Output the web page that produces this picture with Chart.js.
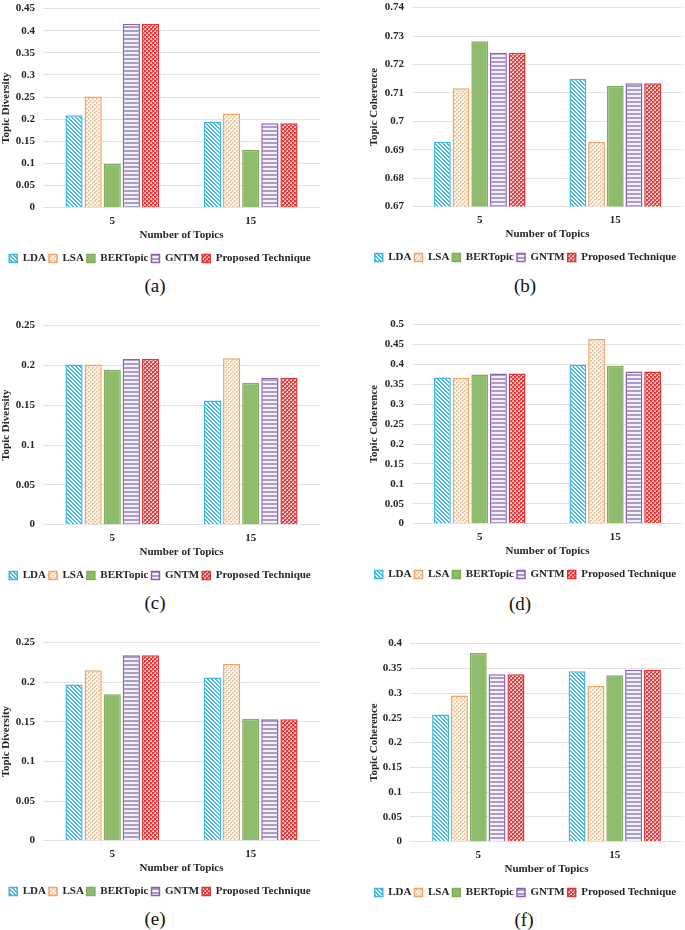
<!DOCTYPE html>
<html>
<head>
<meta charset="utf-8">
<script src="https://cdn.jsdelivr.net/npm/chart.js@4.4.1/dist/chart.umd.min.js"></script>
<style>
  html,body{margin:0;padding:0;background:#fff;}
  body{width:685px;height:930px;position:relative;overflow:hidden;}
  .box{position:absolute;}
  .cap{position:absolute;font-family:"Liberation Serif","Times New Roman",serif;font-size:19px;color:#111;transform:translate(-50%,-50%);white-space:nowrap;}
</style>
</head>
<body>
<div class="box" id="bA" style="left:0;top:-6px;width:322px;height:280px;"><canvas id="cA"></canvas></div>
<div class="box" id="bB" style="left:368px;top:-7px;width:317px;height:280px;"><canvas id="cB"></canvas></div>
<div class="box" id="bC" style="left:0;top:311px;width:322px;height:280px;"><canvas id="cC"></canvas></div>
<div class="box" id="bD" style="left:368px;top:310px;width:317px;height:280px;"><canvas id="cD"></canvas></div>
<div class="box" id="bE" style="left:0;top:628px;width:322px;height:279px;"><canvas id="cE"></canvas></div>
<div class="box" id="bF" style="left:368px;top:629px;width:317px;height:279px;"><canvas id="cF"></canvas></div>
<div class="cap" style="left:155px;top:286px;">(a)</div>
<div class="cap" style="left:525px;top:286px;">(b)</div>
<div class="cap" style="left:155px;top:603px;">(c)</div>
<div class="cap" style="left:520px;top:604px;">(d)</div>
<div class="cap" style="left:155px;top:919px;">(e)</div>
<div class="cap" style="left:524px;top:920px;">(f)</div>
<script>
// ---- data ----
const categories = ['5', '15'];
const seriesNames = ['LDA', 'LSA', 'BERTopic', 'GNTM', 'Proposed Technique'];
// values per series: [topics=5, topics=15]
const aLDA = [0.209, 0.194], aLSA = [0.251, 0.213], aBERT = [0.099, 0.130], aGNTM = [0.416, 0.191], aProp = [0.416, 0.191];
const bLDA = [0.6928, 0.7150], bLSA = [0.7116, 0.6928], bBERT = [0.7282, 0.7125], bGNTM = [0.7241, 0.7134], bProp = [0.7241, 0.7134];
const cLDA = [0.201, 0.156], cLSA = [0.201, 0.209], cBERT = [0.1946, 0.178], cGNTM = [0.208, 0.1846], cProp = [0.208, 0.1846];
const dLDA = [0.367, 0.399], dLSA = [0.366, 0.464], dBERT = [0.3746, 0.3963], dGNTM = [0.377, 0.382], dProp = [0.377, 0.382];
const eLDA = [0.197, 0.206], eLSA = [0.215, 0.223], eBERT = [0.1848, 0.1536], eGNTM = [0.234, 0.1532], eProp = [0.234, 0.1532];
const fLDA = [0.2568, 0.344], fLSA = [0.295, 0.3146], fBERT = [0.381, 0.336], fGNTM = [0.338, 0.347], fProp = [0.338, 0.347];

// ---- patterns ----
function makePattern(size, painter) {
  const c = document.createElement('canvas');
  c.width = size; c.height = size;
  const x = c.getContext('2d');
  painter(x, size);
  return x.createPattern(c, 'repeat');
}
function px(ctx, col, x, y) { ctx.fillStyle = col; ctx.fillRect(x, y, 1, 1); }
const patLDA = makePattern(4, (ctx, s) => {
  ctx.fillStyle = '#ffffff'; ctx.fillRect(0, 0, s, s);
  for (let y = 0; y < s; y++) for (let x = 0; x < s; x++) {
    if (((x - y) % 4 + 4) % 4 < 2) px(ctx, '#45b9e3', x, y);
  }
});
const patLSA = makePattern(4, (ctx, s) => {
  ctx.fillStyle = '#fcf3ea'; ctx.fillRect(0, 0, s, s);
  px(ctx, '#e7c7a4', 0, 0); px(ctx, '#e7c7a4', 1, 0); px(ctx, '#e7c7a4', 0, 1);
  px(ctx, '#e7c7a4', 2, 2); px(ctx, '#e7c7a4', 3, 2); px(ctx, '#e7c7a4', 2, 3);
});
const patGNTM = makePattern(4, (ctx, s) => {
  ctx.fillStyle = '#f3f0f7'; ctx.fillRect(0, 0, s, s);
  ctx.fillStyle = '#aa9cc4'; ctx.fillRect(0, 0, s, 2);
});
const patProp = makePattern(4, (ctx, s) => {
  ctx.fillStyle = '#fbd6d6'; ctx.fillRect(0, 0, s, s);
  ctx.fillStyle = '#e83a3a'; ctx.fillRect(0, 0, 2, 2); ctx.fillRect(2, 2, 2, 2);
  px(ctx, '#ee6a6a', 2, 0); px(ctx, '#ee6a6a', 0, 2);
});
const fills = [patLDA, patLSA, '#8fbc6c', patGNTM, patProp];
const borders = ['#3db7e4', '#f0a468', '#7eae5c', '#8f5fb5', '#e23232'];

const FONT = '"Liberation Serif", "Times New Roman", serif';
const TXT = '#262626';

function fmt(v) { return String(parseFloat(Number(v).toFixed(3))); }

function makeChart(id, seriesVals, yMin, yMax, yStep, yTitle, yWidth) {
  const datasets = seriesNames.map((name, i) => ({
    label: name,
    data: seriesVals[i],
    backgroundColor: fills[i],
    borderColor: borders[i],
    borderWidth: 1.5,
    categoryPercentage: 0.69,
    barPercentage: 0.9
  }));
  return new Chart(document.getElementById(id), {
    type: 'bar',
    data: { labels: categories, datasets },
    options: {
      responsive: true,
      maintainAspectRatio: false,
      animation: false,
      devicePixelRatio: 1,
      layout: { padding: { left: 0, right: 2, top: 0, bottom: 0 } },
      plugins: {
        tooltip: { enabled: false },
        legend: {
          position: 'bottom',
          labels: {
            boxWidth: 8, boxHeight: 8, padding: 3,
            color: TXT,
            font: { family: FONT, size: 11, weight: 'bold' }
          }
        }
      },
      scales: {
        x: {
          grid: { display: false, drawTicks: false },
          border: { display: false },
          ticks: { color: TXT, padding: 7, font: { family: FONT, size: 11, weight: 'bold' } },
          title: { display: true, text: 'Number of Topics', color: TXT, padding: { top: -6, bottom: 8 },
                   font: { family: FONT, size: 11, weight: 'bold' } }
        },
        y: {
          min: yMin, max: yMax,
          afterFit: s => { s.width = yWidth; },
          grid: { color: '#e2e2e2', lineWidth: 1, drawTicks: false },
          border: { display: false },
          ticks: { stepSize: yStep, color: TXT, padding: 8, callback: v => fmt(v),
                   font: { family: FONT, size: 11, weight: 'bold' } },
          title: { display: true, text: yTitle, color: TXT, padding: 0,
                   font: { family: FONT, size: 11, weight: 'bold' } }
        }
      }
    }
  });
}

makeChart('cA', [aLDA, aLSA, aBERT, aGNTM, aProp], 0, 0.45, 0.05, 'Topic Diversity', 43);
makeChart('cB', [bLDA, bLSA, bBERT, bGNTM, bProp], 0.67, 0.74, 0.01, 'Topic Coherence', 44);
makeChart('cC', [cLDA, cLSA, cBERT, cGNTM, cProp], 0, 0.25, 0.05, 'Topic Diversity', 43);
makeChart('cD', [dLDA, dLSA, dBERT, dGNTM, dProp], 0, 0.5, 0.05, 'Topic Coherence', 44);
makeChart('cE', [eLDA, eLSA, eBERT, eGNTM, eProp], 0, 0.25, 0.05, 'Topic Diversity', 43);
makeChart('cF', [fLDA, fLSA, fBERT, fGNTM, fProp], 0, 0.4, 0.05, 'Topic Coherence', 42);
</script>
</body>
</html>
